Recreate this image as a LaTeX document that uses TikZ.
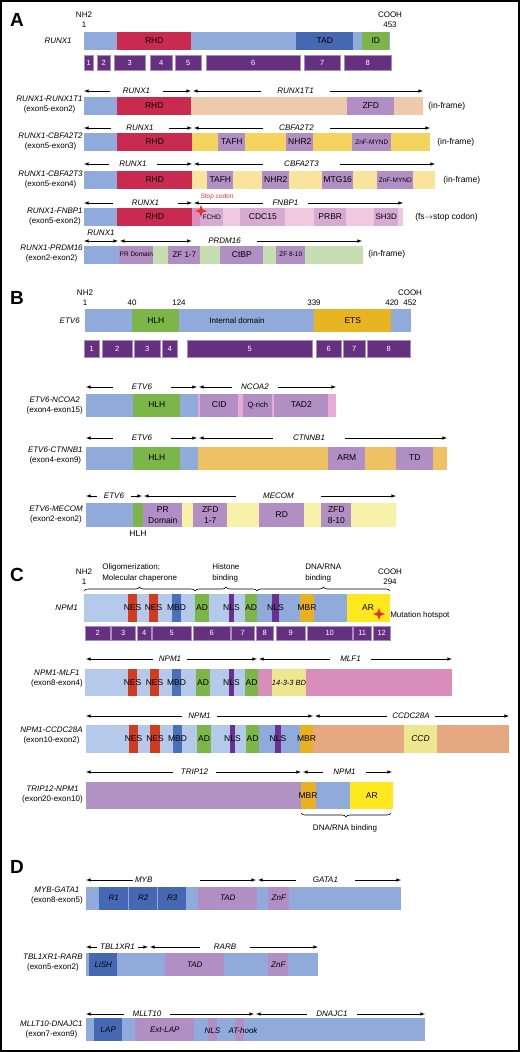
\documentclass[tikz,border=0pt]{standalone}
\usepackage{fontspec}
\setmainfont{Liberation Sans}
\usetikzlibrary{shapes.geometric,decorations.pathreplacing}

\definecolor{bluelt}{HTML}{8FAADB}
\definecolor{npmlt}{HTML}{B5C9EA}
\definecolor{rhdred}{HTML}{C92A4F}
\definecolor{tadblue}{HTML}{4668B2}
\definecolor{idgreen}{HTML}{7CB548}
\definecolor{exonpurple}{HTML}{64307F}
\definecolor{exonedge}{HTML}{A98DC0}
\definecolor{peach}{HTML}{EFC9AC}
\definecolor{mauve}{HTML}{B18FC5}
\definecolor{trip}{HTML}{B192C2}
\definecolor{yellowd}{HTML}{F5D35F}
\definecolor{yellowl}{HTML}{F9E39D}
\definecolor{pinkl}{HTML}{F0C9E1}
\definecolor{pinkd}{HTML}{DA8EC0}
\definecolor{lilac}{HTML}{D5AAD3}
\definecolor{greenl}{HTML}{C7DDB2}
\definecolor{etsgold}{HTML}{E9B422}
\definecolor{pinkm}{HTML}{E9AAD3}
\definecolor{orangel}{HTML}{EEC163}
\definecolor{yellowp}{HTML}{F7F1AA}
\definecolor{nesred}{HTML}{D13C1F}
\definecolor{mbdblue}{HTML}{4A70BA}
\definecolor{nlspurple}{HTML}{6B2F8F}
\definecolor{mbrorange}{HTML}{E9B021}
\definecolor{aryellow}{HTML}{FFE81F}
\definecolor{mlfpink}{HTML}{D98DBA}
\definecolor{bdyellow}{HTML}{EEE790}
\definecolor{salmon}{HTML}{E6A881}
\definecolor{stopred}{HTML}{E5322D}

\tikzstyle{segA}=[rectangle,
                  inner sep=0pt,
                  anchor=west,
                  align=center,
                  minimum height=18pt,
                  font=\fontsize{8.5}{9}\selectfont]
\tikzstyle{segB}=[rectangle,
                  inner sep=0pt,
                  anchor=west,
                  align=center,
                  minimum height=23pt,
                  font=\fontsize{8.5}{10.5}\selectfont]
\tikzstyle{segC}=[rectangle,
                  inner sep=0pt,
                  anchor=west,
                  align=center,
                  minimum height=28pt,
                  font=\fontsize{8.5}{9}\selectfont]
\tikzstyle{segD}=[rectangle,
                  inner sep=0pt,
                  anchor=west,
                  align=center,
                  minimum height=23pt,
                  font=\fontsize{8}{9}\selectfont\itshape]
\tikzstyle{exonA}=[rectangle,
                  inner sep=0pt,
                  anchor=west,
                  minimum height=15pt,
                  fill=exonpurple,
                  draw=exonedge,
                  line width=0.4pt,
                  text=white,
                  font=\fontsize{7.5}{8}\selectfont]
\tikzstyle{exonB}=[exonA,
                  minimum height=17pt]
\tikzstyle{exonC}=[exonA,
                  minimum height=14pt]
\tikzstyle{fname}=[anchor=east,
                  align=center,
                  inner sep=0pt,
                  font=\fontsize{8}{10}\selectfont]
\tikzstyle{gene}=[inner sep=0pt,
                  minimum height=8pt,
                  font=\fontsize{8}{9}\selectfont\itshape]
\tikzstyle{note}=[anchor=west,
                  inner sep=0pt,
                  font=\fontsize{8.5}{9}\selectfont]
\tikzstyle{term}=[align=center,
                  inner sep=0pt,
                  font=\fontsize{8}{10}\selectfont]
\tikzstyle{tag}=[inner sep=0pt,
                  font=\fontsize{8.5}{9}\selectfont]
\tikzstyle{head}=[anchor=west,
                  align=left,
                  inner sep=0pt,
                  font=\fontsize{8}{11}\selectfont]
\tikzstyle{panel}=[inner sep=0pt,
                  font=\fontsize{19}{20}\selectfont\bfseries]
\tikzstyle{hotspot}=[star,
                  star points=4,
                  star point ratio=2.6,
                  fill=stopred,
                  inner sep=0pt,
                  minimum size=12pt]
\tikzstyle{brace}=[decorate,
                  decoration={brace, amplitude=4pt},
                  line width=0.6pt]

\begin{document}
\begin{tikzpicture}[x=1pt,y=-1pt,>=latex,line width=0.6pt]
  \useasboundingbox (0,0) rectangle (520,1052);
  \draw[line width=2pt] (1,1) rectangle (519,1051);

  % ---------------- Panel A: RUNX1 ----------------
  \node (Panel_A) [panel] at (17,20) {A};
  \node (NH2_A) [term] at (84,20) {NH2\\1};
  \node (COOH_A) [term] at (390,20) {COOH\\453};

  % First line: wild type RUNX1
  \node (RUNX1_name) [fname] at (72,41) {\textit{RUNX1}};
  \node (RUNX1_bar) [segA, fill=bluelt, minimum width=306pt] at (84,41) {};
  \node (RUNX1_RHD) [segA, fill=rhdred, minimum width=74pt] at (117,41) {RHD};
  \node (RUNX1_TAD) [segA, fill=tadblue, minimum width=57pt] at (296,41) {TAD};
  \node (RUNX1_ID) [segA, fill=idgreen, minimum width=27pt] at (362,41) {ID};

  % Second line: exons
  \node (ExonA_1) [exonA, minimum width=9pt] at (84,62.5) {1};
  \node (ExonA_2) [exonA, minimum width=13pt] at (97,62.5) {2};
  \node (ExonA_3) [exonA, minimum width=31pt] at (114,62.5) {3};
  \node (ExonA_4) [exonA, minimum width=22pt] at (150,62.5) {4};
  \node (ExonA_5) [exonA, minimum width=26pt] at (175,62.5) {5};
  \node (ExonA_6) [exonA, minimum width=94pt] at (206,62.5) {6};
  \node (ExonA_7) [exonA, minimum width=36pt] at (304,62.5) {7};
  \node (ExonA_8) [exonA, minimum width=47pt] at (344,62.5) {8};

  % RUNX1-RUNX1T1
  \node (FusA1_name) [fname] at (83,105) {\textit{RUNX1-RUNX1T1}\\(exon5-exon2)};
  \node (FusA1_bar) [segA, fill=peach, minimum width=339pt] at (84,106) {};
  \node (FusA1_N) [segA, fill=bluelt, minimum width=33pt] at (84,106) {};
  \node (FusA1_RHD) [segA, fill=rhdred, minimum width=74pt] at (117,106) {RHD};
  \node (FusA1_ZFD) [segA, fill=mauve, minimum width=47pt] at (347,106) {ZFD};
  \node (FusA1_note) [note] at (428,106) {(in-frame)};
  \coordinate (FusA1_a) at (84,91);
  \coordinate (FusA1_b) at (191,91);
  \coordinate (FusA1_c) at (193,91);
  \coordinate (FusA1_d) at (423,91);
  \node (GeneA1_5) [gene, minimum width=53pt] at (136.5,91) {RUNX1};
  \node (GeneA1_3) [gene, minimum width=69pt] at (295.5,91) {RUNX1T1};

  % RUNX1-CBFA2T2
  \node (FusA2_name) [fname] at (83,141.5) {\textit{RUNX1-CBFA2T2}\\(exon5-exon3)};
  \node (FusA2_bar) [segA, fill=yellowd, minimum width=346pt] at (84,142) {};
  \node (FusA2_N) [segA, fill=bluelt, minimum width=33pt] at (84,142) {};
  \node (FusA2_RHD) [segA, fill=rhdred, minimum width=75pt] at (117,142) {RHD};
  \node (FusA2_TAFH) [segA, fill=mauve, minimum width=27pt] at (218,142) {TAFH};
  \node (FusA2_NHR2) [segA, fill=mauve, minimum width=27pt] at (286,142) {NHR2};
  \node (FusA2_ZnF) [segA, fill=mauve, minimum width=39pt, font=\fontsize{6.5}{7}\selectfont] at (352,142) {ZnF-MYND};
  \node (FusA2_note) [note] at (437,142) {(in-frame)};
  \coordinate (FusA2_a) at (84,128);
  \coordinate (FusA2_b) at (192,128);
  \coordinate (FusA2_c) at (194,128);
  \coordinate (FusA2_d) at (430,128);
  \node (GeneA2_5) [gene, minimum width=58pt] at (140,128) {RUNX1};
  \node (GeneA2_3) [gene, minimum width=67pt] at (296.5,128) {CBFA2T2};

  % RUNX1-CBFA2T3
  \node (FusA3_name) [fname] at (83,180) {\textit{RUNX1-CBFA2T3}\\(exon5-exon4)};
  \node (FusA3_bar) [segA, fill=yellowl, minimum width=351pt] at (84,180) {};
  \node (FusA3_N) [segA, fill=bluelt, minimum width=33pt] at (84,180) {};
  \node (FusA3_RHD) [segA, fill=rhdred, minimum width=75pt] at (117,180) {RHD};
  \node (FusA3_TAFH) [segA, fill=mauve, minimum width=26pt] at (207,180) {TAFH};
  \node (FusA3_NHR2) [segA, fill=mauve, minimum width=27pt] at (262,180) {NHR2};
  \node (FusA3_MTG16) [segA, fill=mauve, minimum width=31pt] at (322,180) {MTG16};
  \node (FusA3_ZnF) [segA, fill=mauve, minimum width=36pt, font=\fontsize{6.5}{7}\selectfont] at (377,180) {ZnF-MYND};
  \node (FusA3_note) [note] at (443,180) {(in-frame)};
  \coordinate (FusA3_a) at (84,164);
  \coordinate (FusA3_b) at (192,164);
  \coordinate (FusA3_c) at (194,164);
  \coordinate (FusA3_d) at (435,164);
  \node (GeneA3_5) [gene, minimum width=48pt] at (133,164) {RUNX1};
  \node (GeneA3_3) [gene, minimum width=77pt] at (301.5,164) {CBFA2T3};

  % RUNX1-FNBP1
  \node (FusA4_name) [fname] at (83,217) {\textit{RUNX1-FNBP1}\\(exon5-exon2)};
  \node (FusA4_bar) [segA, fill=pinkl, minimum width=319pt] at (84,217) {};
  \node (FusA4_N) [segA, fill=bluelt, minimum width=33pt] at (84,217) {};
  \node (FusA4_RHD) [segA, fill=rhdred, minimum width=75pt] at (117,217) {RHD};
  \node (FusA4_fs) [segA, fill=pinkd, minimum width=8pt] at (192,217) {};
  \node (FusA4_FCHD) [segA, fill=lilac, minimum width=23pt, font=\fontsize{6.5}{7}\selectfont] at (200,217) {FCHD};
  \node (FusA4_CDC15) [segA, fill=lilac, minimum width=45pt] at (240,217) {CDC15};
  \node (FusA4_PRBR) [segA, fill=lilac, minimum width=32pt] at (314,217) {PRBR};
  \node (FusA4_SH3D) [segA, fill=lilac, minimum width=24pt, font=\fontsize{8}{9}\selectfont] at (374,217) {SH3D};
  \node (FusA4_note) [note] at (415,217) {(fs$\rightarrow$stop codon)};
  \node (Stop_A4) [hotspot] at (201,211) {};
  \node (Stop_lbl) [tag, text=stopred, font=\fontsize{6.5}{7}\selectfont\itshape] at (217,197) {Stop codon};
  \coordinate (FusA4_a) at (84,203);
  \coordinate (FusA4_b) at (192,203);
  \coordinate (FusA4_c) at (194,203);
  \coordinate (FusA4_d) at (403,203);
  \node (GeneA4_5) [gene, minimum width=65pt] at (145.5,203) {RUNX1};
  \node (GeneA4_3) [gene, minimum width=45pt] at (285.5,203) {FNBP1};

  % RUNX1-PRDM16
  \node (FusA5_name) [fname] at (83,254) {\textit{RUNX1-PRDM16}\\(exon2-exon2)};
  \node (FusA5_bar) [segA, fill=greenl, minimum width=279pt] at (84,254.5) {};
  \node (FusA5_N) [segA, fill=bluelt, minimum width=35pt] at (84,254.5) {};
  \node (FusA5_PR) [segA, fill=mauve, minimum width=34pt, font=\fontsize{6.5}{7}\selectfont] at (119,254.5) {PR Domain};
  \node (FusA5_ZF1) [segA, fill=mauve, minimum width=32pt, font=\fontsize{8}{9}\selectfont] at (168,254.5) {ZF 1-7};
  \node (FusA5_CtBP) [segA, fill=mauve, minimum width=43pt] at (220,254.5) {CtBP};
  \node (FusA5_ZF8) [segA, fill=mauve, minimum width=29pt, font=\fontsize{6.5}{7}\selectfont] at (276,254.5) {ZF 8-10};
  \node (FusA5_note) [note] at (368,254.5) {(in-frame)};
  \coordinate (FusA5_a) at (84,241);
  \coordinate (FusA5_b) at (118,241);
  \coordinate (FusA5_c) at (120,241);
  \coordinate (FusA5_d) at (362,241);
  \node (GeneA5_5) [gene] at (101,233) {RUNX1};
  \node (GeneA5_3) [gene, minimum width=65pt] at (224.5,241) {PRDM16};

  % ---------------- Panel B: ETV6 ----------------
  \node (Panel_B) [panel] at (17,298) {B};
  \node (NH2_B) [term] at (85,293) {NH2};
  \node (COOH_B) [term] at (410,293) {COOH};
  \node (PosB_1) [term] at (85,303) {1};
  \node (PosB_40) [term] at (132,303) {40};
  \node (PosB_124) [term] at (179,303) {124};
  \node (PosB_339) [term] at (314,303) {339};
  \node (PosB_420) [term] at (392,303) {420};
  \node (PosB_452) [term] at (410,303) {452};

  % First line: wild type ETV6
  \node (ETV6_name) [fname] at (80,320.5) {\textit{ETV6}};
  \node (ETV6_bar) [segB, fill=bluelt, minimum width=326pt] at (85,320.5) {};
  \node (ETV6_HLH) [segB, fill=idgreen, minimum width=47pt] at (132,320.5) {HLH};
  \node (ETV6_ETS) [segB, fill=etsgold, minimum width=77pt] at (314,320.5) {ETS};
  \node (ETV6_int) [tag, font=\fontsize{8}{9}\selectfont] at (237,320.5) {Internal domain};

  % Second line: exons
  \node (ExonB_1) [exonB, minimum width=15pt] at (84,348.5) {1};
  \node (ExonB_2) [exonB, minimum width=30pt] at (102,348.5) {2};
  \node (ExonB_3) [exonB, minimum width=26pt] at (134,348.5) {3};
  \node (ExonB_4) [exonB, minimum width=15pt] at (162,348.5) {4};
  \node (ExonB_5) [exonB, minimum width=125pt] at (187,348.5) {5};
  \node (ExonB_6) [exonB, minimum width=25pt] at (316,348.5) {6};
  \node (ExonB_7) [exonB, minimum width=22pt] at (343,348.5) {7};
  \node (ExonB_8) [exonB, minimum width=43pt] at (367,348.5) {8};

  % ETV6-NCOA2
  \node (FusB1_name) [fname] at (83,406) {\textit{ETV6-NCOA2}\\(exon4-exon15)};
  \node (FusB1_bar) [segB, fill=pinkm, minimum width=250pt] at (86,405) {};
  \node (FusB1_N) [segB, fill=bluelt, minimum width=112pt] at (86,405) {};
  \node (FusB1_HLH) [segB, fill=idgreen, minimum width=47pt] at (133,405) {HLH};
  \node (FusB1_CID) [segB, fill=mauve, minimum width=38pt] at (200,405) {CID};
  \node (FusB1_Q) [segB, fill=mauve, minimum width=29pt, font=\fontsize{7.5}{8}\selectfont] at (243,405) {Q-rich};
  \node (FusB1_TAD2) [segB, fill=mauve, minimum width=54pt] at (274,405) {TAD2};
  \coordinate (FusB1_a) at (86,387);
  \coordinate (FusB1_b) at (197,387);
  \coordinate (FusB1_c) at (199,387);
  \coordinate (FusB1_d) at (336,387);
  \node (GeneB1_5) [gene, minimum width=58pt] at (142,387) {ETV6};
  \node (GeneB1_3) [gene, minimum width=46pt] at (255,387) {NCOA2};

  % ETV6-CTNNB1
  \node (FusB2_name) [fname] at (83,456) {\textit{ETV6-CTNNB1}\\(exon4-exon9)};
  \node (FusB2_bar) [segB, fill=orangel, minimum width=361pt] at (86,458) {};
  \node (FusB2_N) [segB, fill=bluelt, minimum width=112pt] at (86,458) {};
  \node (FusB2_HLH) [segB, fill=idgreen, minimum width=47pt] at (133,458) {HLH};
  \node (FusB2_ARM) [segB, fill=mauve, minimum width=37pt] at (328,458) {ARM};
  \node (FusB2_TD) [segB, fill=mauve, minimum width=37pt] at (396,458) {TD};
  \coordinate (FusB2_a) at (86,438);
  \coordinate (FusB2_b) at (197,438);
  \coordinate (FusB2_c) at (199,438);
  \coordinate (FusB2_d) at (447,438);
  \node (GeneB2_5) [gene, minimum width=58pt] at (142,438) {ETV6};
  \node (GeneB2_3) [gene, minimum width=72pt] at (309,438) {CTNNB1};

  % ETV6-MECOM
  \node (FusB3_name) [fname] at (83,515) {\textit{ETV6-MECOM}\\(exon2-exon2)};
  \node (FusB3_bar) [segB, fill=yellowp, minimum width=310pt, minimum height=24pt] at (86,515) {};
  \node (FusB3_N) [segB, fill=bluelt, minimum width=47pt, minimum height=24pt] at (86,515) {};
  \node (FusB3_HLH) [segB, fill=idgreen, minimum width=10pt, minimum height=24pt] at (133,515) {};
  \node (FusB3_PR) [segB, fill=mauve, minimum width=39pt, minimum height=24pt] at (143,515) {PR\\Domain};
  \node (FusB3_ZFD1) [segB, fill=mauve, minimum width=34pt, minimum height=24pt] at (193,515) {ZFD\\1-7};
  \node (FusB3_RD) [segB, fill=mauve, minimum width=45pt, minimum height=24pt] at (259,515) {RD};
  \node (FusB3_ZFD8) [segB, fill=mauve, minimum width=30pt, minimum height=24pt] at (321,515) {ZFD\\8-10};
  \node (FusB3_hlh) [tag] at (138,534) {HLH};
  \coordinate (FusB3_a) at (86,496);
  \coordinate (FusB3_b) at (142,496);
  \coordinate (FusB3_c) at (144,496);
  \coordinate (FusB3_d) at (396,496);
  \node (GeneB3_5) [gene, minimum width=34pt] at (114,496) {ETV6};
  \node (GeneB3_3) [gene, minimum width=85pt] at (278.5,496) {MECOM};

  % ---------------- Panel C: NPM1 ----------------
  \node (Panel_C) [panel] at (17,575) {C};
  \node (NH2_C) [term] at (84,577) {NH2\\1};
  \node (COOH_C) [term] at (390,577) {COOH\\294};
  \node (Head_C1) [head] at (102,572.5) {Oligomerization;\\Molecular chaperone};
  \node (Head_C2) [head] at (212,572.5) {Histone\\binding};
  \node (Head_C3) [head] at (305,572.5) {DNA/RNA\\binding};
  \coordinate (Brace_C0) at (84,591);
  \coordinate (Brace_C1) at (195,591);
  \coordinate (Brace_C2) at (257,591);
  \coordinate (Brace_C3) at (390,591);
  \draw[brace] (Brace_C0) -- (Brace_C1);
  \draw[brace] (Brace_C1) -- (Brace_C2);
  \draw[brace] (Brace_C2) -- (Brace_C3);

  % First line: wild type NPM1
  \node (NPM1_name) [fname] at (78,608) {\textit{NPM1}};
  \node (NPM1_bar) [segC, fill=npmlt, minimum width=173pt] at (84,608) {};
  \node (NPM1_mid) [segC, fill=bluelt, minimum width=90pt] at (257,608) {};
  \node (NPM1_AR) [segC, fill=aryellow, minimum width=43pt] at (347,608) {};
  \node (NPM1_NES1) [segC, fill=nesred, minimum width=9pt] at (128,608) {};
  \node (NPM1_NES2) [segC, fill=nesred, minimum width=9pt] at (149,608) {};
  \node (NPM1_MBD) [segC, fill=mbdblue, minimum width=9pt] at (172,608) {};
  \node (NPM1_AD1) [segC, fill=idgreen, minimum width=14pt] at (195,608) {};
  \node (NPM1_NLS1) [segC, fill=nlspurple, minimum width=5pt] at (229,608) {};
  \node (NPM1_AD2) [segC, fill=idgreen, minimum width=12pt] at (245,608) {};
  \node (NPM1_NLS2) [segC, fill=nlspurple, minimum width=7pt] at (272,608) {};
  \node (NPM1_MBR) [segC, fill=mbrorange, minimum width=14pt] at (300,608) {};
  \node (NPM1_t1) [tag] at (132.5,608) {NES};
  \node (NPM1_t2) [tag] at (153.5,608) {NES};
  \node (NPM1_t3) [tag] at (176.5,608) {MBD};
  \node (NPM1_t4) [tag] at (202,608) {AD};
  \node (NPM1_t5) [tag] at (231.5,608) {NLS};
  \node (NPM1_t6) [tag] at (251,608) {AD};
  \node (NPM1_t7) [tag] at (275.5,608) {NLS};
  \node (NPM1_t8) [tag] at (307,608) {MBR};
  \node (NPM1_t9) [tag] at (368,608) {AR};
  \node (Hot_C) [hotspot] at (379,614) {};
  \node (Hot_lbl) [note, font=\fontsize{8}{9}\selectfont] at (390,615) {Mutation hotspot};

  % Second line: exons
  \node (ExonC_2) [exonC, minimum width=25pt] at (85,633) {2};
  \node (ExonC_3) [exonC, minimum width=24pt] at (111,633) {3};
  \node (ExonC_4) [exonC, minimum width=14pt] at (137,633) {4};
  \node (ExonC_5) [exonC, minimum width=39pt] at (152,633) {5};
  \node (ExonC_6) [exonC, minimum width=37pt] at (193,633) {6};
  \node (ExonC_7) [exonC, minimum width=23pt] at (231,633) {7};
  \node (ExonC_8) [exonC, minimum width=17pt] at (256,633) {8};
  \node (ExonC_9) [exonC, minimum width=29pt] at (276,633) {9};
  \node (ExonC_10) [exonC, minimum width=45pt] at (307,633) {10};
  \node (ExonC_11) [exonC, minimum width=18pt] at (353,633) {11};
  \node (ExonC_12) [exonC, minimum width=17pt] at (373,633) {12};

  % NPM1-MLF1
  \node (FusC1_name) [fname] at (83,679) {\textit{NPM1-MLF1}\\(exon8-exon4)};
  \node (FusC1_bar) [segC, fill=mlfpink, minimum width=367pt, minimum height=27pt] at (85,682.5) {};
  \node (FusC1_N) [segC, fill=npmlt, minimum width=173pt, minimum height=27pt] at (85,682.5) {};
  \node (FusC1_BD) [segC, fill=bdyellow, minimum width=34pt, minimum height=27pt] at (272,682.5) {};
  \node (FusC1_NES1) [segC, fill=nesred, minimum width=9pt, minimum height=27pt] at (128,682.5) {};
  \node (FusC1_NES2) [segC, fill=nesred, minimum width=9pt, minimum height=27pt] at (150,682.5) {};
  \node (FusC1_MBD) [segC, fill=mbdblue, minimum width=9pt, minimum height=27pt] at (172,682.5) {};
  \node (FusC1_AD1) [segC, fill=idgreen, minimum width=14pt, minimum height=27pt] at (196,682.5) {};
  \node (FusC1_NLS) [segC, fill=nlspurple, minimum width=5pt, minimum height=27pt] at (229,682.5) {};
  \node (FusC1_AD2) [segC, fill=idgreen, minimum width=13pt, minimum height=27pt] at (245,682.5) {};
  \node (FusC1_t1) [tag] at (132.5,683) {NES};
  \node (FusC1_t2) [tag] at (154.5,683) {NES};
  \node (FusC1_t3) [tag] at (176.5,683) {MBD};
  \node (FusC1_t4) [tag] at (203,683) {AD};
  \node (FusC1_t5) [tag] at (231.5,683) {NLS};
  \node (FusC1_t6) [tag] at (251.5,683) {AD};
  \node (FusC1_t7) [tag, font=\fontsize{7.5}{8}\selectfont\itshape] at (289,683) {14-3-3 BD};
  \coordinate (FusC1_a) at (86,659);
  \coordinate (FusC1_b) at (257,659);
  \coordinate (FusC1_c) at (259,659);
  \coordinate (FusC1_d) at (452,659);
  \node (GeneC1_5) [gene, minimum width=34pt] at (170,659) {NPM1};
  \node (GeneC1_3) [gene, minimum width=41pt] at (350.5,659) {MLF1};

  % NPM1-CCDC28A
  \node (FusC2_name) [fname] at (83,736) {\textit{NPM1-CCDC28A}\\(exon10-exon2)};
  \node (FusC2_bar) [segC, fill=salmon, minimum width=423pt] at (86,739) {};
  \node (FusC2_N) [segC, fill=npmlt, minimum width=173pt] at (86,739) {};
  \node (FusC2_mid) [segC, fill=bluelt, minimum width=41pt] at (259,739) {};
  \node (FusC2_MBR) [segC, fill=mbrorange, minimum width=13pt] at (300,739) {};
  \node (FusC2_CCD) [segC, fill=bdyellow, minimum width=33pt] at (404,739) {};
  \node (FusC2_NES1) [segC, fill=nesred, minimum width=9pt] at (129,739) {};
  \node (FusC2_NES2) [segC, fill=nesred, minimum width=10pt] at (150,739) {};
  \node (FusC2_MBD) [segC, fill=mbdblue, minimum width=9pt] at (173,739) {};
  \node (FusC2_AD1) [segC, fill=idgreen, minimum width=14pt] at (197,739) {};
  \node (FusC2_NLS1) [segC, fill=nlspurple, minimum width=5pt] at (230,739) {};
  \node (FusC2_AD2) [segC, fill=idgreen, minimum width=13pt] at (246,739) {};
  \node (FusC2_NLS2) [segC, fill=nlspurple, minimum width=6pt] at (275,739) {};
  \node (FusC2_t1) [tag] at (133.5,739) {NES};
  \node (FusC2_t2) [tag] at (155,739) {NES};
  \node (FusC2_t3) [tag] at (177.5,739) {MBD};
  \node (FusC2_t4) [tag] at (204,739) {AD};
  \node (FusC2_t5) [tag] at (232.5,739) {NLS};
  \node (FusC2_t6) [tag] at (252.5,739) {AD};
  \node (FusC2_t7) [tag] at (278,739) {NLS};
  \node (FusC2_t8) [tag] at (306.5,739) {MBR};
  \node (FusC2_t9) [tag, font=\fontsize{8.5}{9}\selectfont\itshape] at (420.5,739) {CCD};
  \coordinate (FusC2_a) at (86,716);
  \coordinate (FusC2_b) at (313,716);
  \coordinate (FusC2_c) at (315,716);
  \coordinate (FusC2_d) at (509,716);
  \node (GeneC2_5) [gene, minimum width=35pt] at (199.5,716) {NPM1};
  \node (GeneC2_3) [gene, minimum width=48pt] at (411,716) {CCDC28A};

  % TRIP12-NPM1
  \node (FusC3_name) [fname] at (83,795) {\textit{TRIP12-NPM1}\\(exon20-exon10)};
  \node (FusC3_bar) [segC, fill=trip, minimum width=215pt, minimum height=27pt] at (86,795.5) {};
  \node (FusC3_MBR) [segC, fill=mbrorange, minimum width=15pt, minimum height=27pt] at (301,795.5) {};
  \node (FusC3_mid) [segC, fill=bluelt, minimum width=34pt, minimum height=27pt] at (316,795.5) {};
  \node (FusC3_AR) [segC, fill=aryellow, minimum width=43pt, minimum height=27pt] at (350,795.5) {AR};
  \node (FusC3_t1) [tag] at (308,796) {MBR};
  \coordinate (Brace_C4) at (301,813);
  \coordinate (Brace_C5) at (391,813);
  \draw[brace, decoration={mirror}] (Brace_C4) -- (Brace_C5);
  \node (FusC3_dna) [tag, font=\fontsize{8}{9}\selectfont] at (345,828) {DNA/RNA binding};
  \coordinate (FusC3_a) at (86,772);
  \coordinate (FusC3_b) at (301,772);
  \coordinate (FusC3_c) at (303,772);
  \coordinate (FusC3_d) at (392,772);
  \node (GeneC3_5) [gene, minimum width=43pt] at (194.5,772) {TRIP12};
  \node (GeneC3_3) [gene, minimum width=43pt] at (344.5,772) {NPM1};

  % ---------------- Panel D: other fusions ----------------
  \node (Panel_D) [panel] at (17,867) {D};

  % MYB-GATA1
  \node (FusD1_name) [fname] at (83,896) {\textit{MYB-GATA1}\\(exon8-exon5)};
  \node (FusD1_bar) [segD, fill=bluelt, minimum width=315pt] at (86,898) {};
  \node (FusD1_R1) [segD, fill=tadblue, minimum width=29pt] at (99,898) {R1};
  \node (FusD1_R2) [segD, fill=tadblue, minimum width=28pt] at (129,898) {R2};
  \node (FusD1_R3) [segD, fill=tadblue, minimum width=28pt] at (158,898) {R3};
  \node (FusD1_TAD) [segD, fill=mauve, minimum width=59pt] at (198,898) {TAD};
  \node (FusD1_ZnF) [segD, fill=mauve, minimum width=21pt] at (268,898) {ZnF};
  \coordinate (FusD1_a) at (86,880);
  \coordinate (FusD1_b) at (256,880);
  \coordinate (FusD1_c) at (258,880);
  \coordinate (FusD1_d) at (401,880);
  \node (GeneD1_5) [gene, inner xsep=2pt, text width=63pt, align=left] at (166.5,880) {MYB};
  \node (GeneD1_3) [gene, minimum width=59pt] at (325.5,880) {GATA1};

  % TBL1XR1-RARB
  \node (FusD2_name) [fname] at (83,963) {\textit{TBL1XR1-RARB}\\(exon5-exon2)};
  \node (FusD2_bar) [segD, fill=bluelt, minimum width=232pt] at (86,964.5) {};
  \node (FusD2_LiSH) [segD, fill=tadblue, minimum width=28pt] at (89,964.5) {LiSH};
  \node (FusD2_TAD) [segD, fill=mauve, minimum width=59pt] at (165,964.5) {TAD};
  \node (FusD2_ZnF) [segD, fill=mauve, minimum width=20pt] at (268,964.5) {ZnF};
  \coordinate (FusD2_a) at (86,947);
  \coordinate (FusD2_b) at (148,947);
  \coordinate (FusD2_c) at (150,947);
  \coordinate (FusD2_d) at (318,947);
  \node (GeneD2_5) [gene, minimum width=41pt] at (117.5,947) {TBL1XR1};
  \node (GeneD2_3) [gene, minimum width=50pt] at (225,947) {RARB};

  % MLLT10-DNAJC1
  \node (FusD3_name) [fname] at (83,1030) {\textit{MLLT10-DNAJC1}\\(exon7-exon9)};
  \node (FusD3_bar) [segD, fill=bluelt, minimum width=339pt] at (86,1029.5) {};
  \node (FusD3_LAP) [segD, fill=tadblue, minimum width=28pt] at (94,1029.5) {LAP};
  \node (FusD3_Ext) [segD, fill=mauve, minimum width=59pt] at (135,1029.5) {Ext-LAP};
  \node (FusD3_NLS) [segD, fill=mauve, minimum width=9pt] at (208,1029.5) {};
  \node (FusD3_AT) [segD, fill=mauve, minimum width=9pt] at (235,1029.5) {};
  \node (FusD3_t1) [tag, font=\fontsize{8}{9}\selectfont\itshape] at (212.5,1031) {NLS};
  \node (FusD3_t2) [tag, font=\fontsize{8}{9}\selectfont\itshape] at (243,1031) {AT-hook};
  \coordinate (FusD3_a) at (86,1014);
  \coordinate (FusD3_b) at (254,1014);
  \coordinate (FusD3_c) at (256,1014);
  \coordinate (FusD3_d) at (425,1014);
  \node (GeneD3_5) [gene, minimum width=46pt] at (147,1014) {MLLT10};
  \node (GeneD3_3) [gene, minimum width=50pt] at (332,1014) {DNAJC1};

  % The gene ranges are now drawn as arrows from their labels:
  \path[->]
      (GeneA1_5) edge (FusA1_a) edge (FusA1_b)
      (GeneA1_3) edge (FusA1_c) edge (FusA1_d)
      (GeneA2_5) edge (FusA2_a) edge (FusA2_b)
      (GeneA2_3) edge (FusA2_c) edge (FusA2_d)
      (GeneA3_5) edge (FusA3_a) edge (FusA3_b)
      (GeneA3_3) edge (FusA3_c) edge (FusA3_d)
      (GeneA4_5) edge (FusA4_a) edge (FusA4_b)
      (GeneA4_3) edge (FusA4_c) edge (FusA4_d)
      (GeneA5_3) edge[<->] (FusA5_c) edge (FusA5_d)

      (GeneB1_5) edge (FusB1_a) edge (FusB1_b)
      (GeneB1_3) edge (FusB1_c) edge (FusB1_d)
      (GeneB2_5) edge (FusB2_a) edge (FusB2_b)
      (GeneB2_3) edge (FusB2_c) edge (FusB2_d)
      (GeneB3_5) edge (FusB3_a) edge (FusB3_b)
      (GeneB3_3) edge (FusB3_c) edge (FusB3_d)

      (GeneC1_5) edge (FusC1_a) edge (FusC1_b)
      (GeneC1_3) edge (FusC1_c) edge (FusC1_d)
      (GeneC2_5) edge (FusC2_a) edge (FusC2_b)
      (GeneC2_3) edge (FusC2_c) edge (FusC2_d)
      (GeneC3_5) edge (FusC3_a) edge (FusC3_b)
      (GeneC3_3) edge (FusC3_c) edge (FusC3_d)

      (GeneD1_5) edge (FusD1_a) edge (FusD1_b)
      (GeneD1_3) edge (FusD1_c) edge (FusD1_d)
      (GeneD2_5) edge (FusD2_a) edge (FusD2_b)
      (GeneD2_3) edge (FusD2_c) edge (FusD2_d)
      (GeneD3_5) edge (FusD3_a) edge (FusD3_b)
      (GeneD3_3) edge (FusD3_c) edge (FusD3_d)
      ;
  \draw[<->] (FusA5_a) -- (FusA5_b);

\end{tikzpicture}
\end{document}
